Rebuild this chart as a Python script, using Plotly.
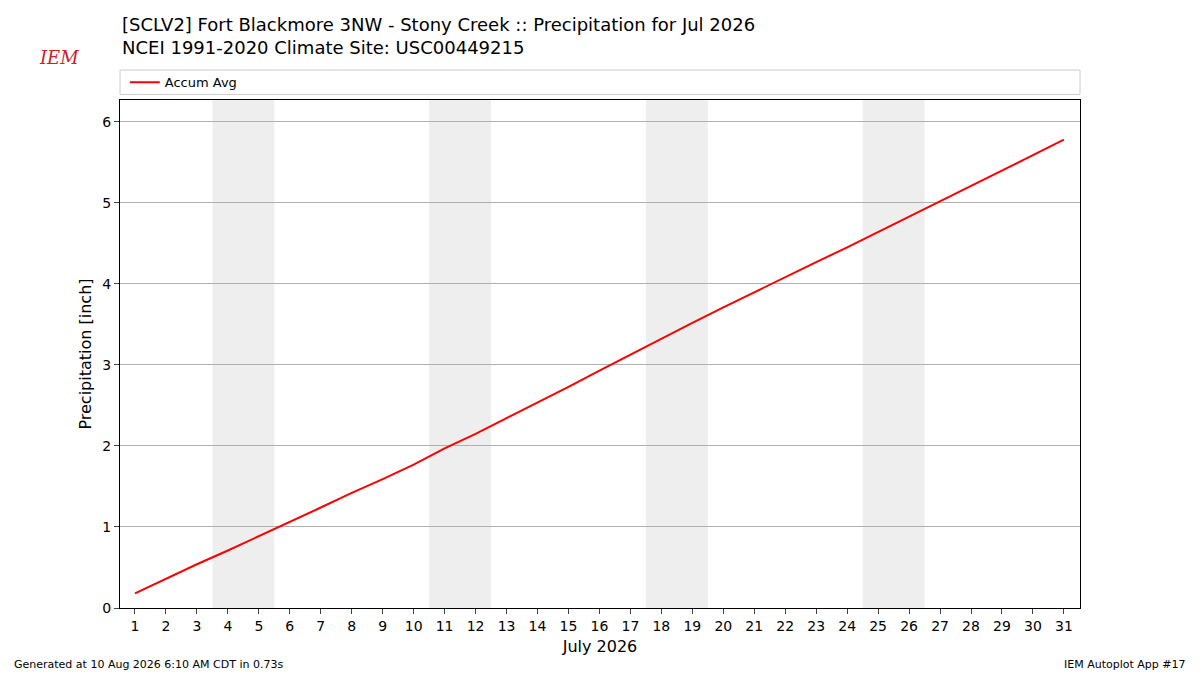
import plotly.graph_objects as go

days = list(range(1, 32))
accum = [0.18,0.36,0.54,0.71,0.89,1.07,1.24,1.42,1.59,1.77,1.97,2.15,2.34,2.53,2.73,2.93,3.13,3.33,3.52,3.71,3.90,4.08,4.27,4.45,4.64,4.83,5.02,5.21,5.40,5.59,5.78]
weekends = [(3.5,5.5),(10.5,12.5),(17.5,19.5),(24.5,26.5)]
yticks = [0,1,2,3,4,5,6]

fig = go.Figure()
fig.add_trace(go.Scatter(x=days, y=accum, mode="lines", name="Accum Avg",
                         line=dict(color="red", width=2)))
shapes = []
for a, b in weekends:
    shapes.append(dict(type="rect", xref="x", yref="paper", x0=a, x1=b, y0=0, y1=1,
                       fillcolor="#eeeeee", line=dict(width=0), layer="below"))
shapes.append(dict(type="rect", xref="paper", yref="paper", x0=0, x1=1, y0=1.011, y1=1.059,
                   line=dict(color="#cccccc", width=1), fillcolor="white"))
fig.update_layout(
    width=1192, height=667, plot_bgcolor="white", paper_bgcolor="white",
    margin=dict(l=112, r=120, t=92, b=67),
    font=dict(family="DejaVu Sans", size=14, color="black"),
    shapes=shapes,
    showlegend=True,
    legend=dict(x=0.005, y=1.035, xanchor="left", yanchor="middle", orientation="h",
                bgcolor="rgba(0,0,0,0)", font=dict(size=13)),
    xaxis=dict(range=[0.516, 31.52], tickmode="array", tickvals=days, ticktext=[str(d) for d in days],
               showgrid=False, showline=True, linecolor="black", mirror=True, ticks="outside",
               title=dict(text="July 2026", font=dict(size=16), standoff=8), zeroline=False),
    yaxis=dict(range=[0, 6.27], tickvals=yticks, showgrid=True, gridcolor="#b0b0b0",
               showline=True, linecolor="black", mirror=True, ticks="outside", zeroline=False,
               title=dict(text="Precipitation [inch]", font=dict(size=16), standoff=6)),
    annotations=[
        dict(text="[SCLV2] Fort Blackmore 3NW - Stony Creek :: Precipitation for Jul 2026<br>NCEI 1991-2020 Climate Site: USC00449215",
             xref="paper", yref="paper", x=0.0, y=1.126, xanchor="left", yanchor="middle",
             showarrow=False, align="left", font=dict(size=18)),
        dict(text="<i>IEM</i>", xref="paper", yref="paper", x=-0.086, y=1.108, showarrow=False,
             font=dict(size=18, color="#cc2222", family="DejaVu Serif")),
        dict(text="Generated at 10 Aug 2026 6:10 AM CDT in 0.73s", xref="paper", yref="paper",
             x=-0.1125, y=-0.127, xanchor="left", showarrow=False, font=dict(size=11)),
        dict(text="IEM Autoplot App #17", xref="paper", yref="paper",
             x=1.1125, y=-0.127, xanchor="right", showarrow=False, font=dict(size=11)),
    ],
)
fig.write_html("out.html")
